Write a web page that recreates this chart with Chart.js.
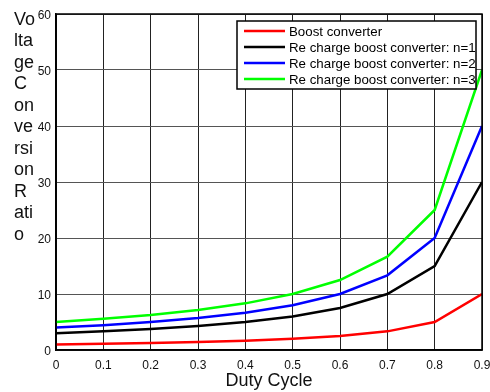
<!DOCTYPE html>
<html>
<head>
<meta charset="utf-8">
<script src="https://cdn.jsdelivr.net/npm/chart.js@4/dist/chart.umd.min.js"></script>
<style>
  html, body { margin: 0; padding: 0; background: #fff; }
  #wrap { width: 490px; height: 392px; position: relative; }
</style>
</head>
<body>
<div id="wrap"><canvas id="chart" width="490" height="392"></canvas></div>
<script>
// duty cycle values
const dutyCycle = [0, 0.1, 0.2, 0.3, 0.4, 0.5, 0.6, 0.7, 0.8, 0.9];
// voltage conversion ratio
const boost = [1, 1.11, 1.25, 1.43, 1.67, 2, 2.5, 3.33, 5, 10];
const rechargeN1 = [3, 3.33, 3.75, 4.29, 5, 6, 7.5, 10, 15, 30];
const rechargeN2 = [4, 4.44, 5, 5.71, 6.67, 8, 10, 13.33, 20, 40];
const rechargeN3 = [5, 5.56, 6.25, 7.14, 8.33, 10, 12.5, 16.67, 25, 50];
const seriesNames = ['Boost converter', 'Re charge boost converter: n=1', 'Re charge boost converter: n=2', 'Re charge boost converter: n=3'];
const seriesColors = ['#ff0000', '#000000', '#0000ff', '#00ff00'];
const yTitleLines = ['Vo', 'lta', 'ge', 'C', 'on', 've', 'rsi', 'on', 'R', 'ati', 'o'];

const FONT = '"Liberation Sans", Arial, sans-serif';

function toPoints(ys) {
  return dutyCycle.map((x, i) => ({ x: x, y: ys[i] }));
}

const allSeries = [boost, rechargeN1, rechargeN2, rechargeN3];

// legend box drawn inside the plot, on top of the lines
const boxLegend = {
  id: 'boxLegend',
  afterDatasetsDraw(chart) {
    const ctx = chart.ctx;
    const a = chart.chartArea;
    // box frame round the plot
    ctx.save();
    ctx.strokeStyle = '#000';
    ctx.lineWidth = 1.5;
    ctx.strokeRect(a.left, a.top, a.right - a.left, a.bottom - a.top);

    const x0 = 237, y0 = 21, w = 239, h = 68;
    ctx.fillStyle = '#fff';
    ctx.fillRect(x0, y0, w, h);
    ctx.strokeRect(x0, y0, w, h);
    ctx.font = '13.3px ' + FONT;
    ctx.textBaseline = 'middle';
    seriesNames.forEach((name, i) => {
      const y = 31 + i * 16;
      ctx.strokeStyle = seriesColors[i];
      ctx.lineWidth = 2.5;
      ctx.beginPath();
      ctx.moveTo(244, y);
      ctx.lineTo(285, y);
      ctx.stroke();
      ctx.fillStyle = '#000';
      ctx.fillText(name, 289, y + 1);
    });
    ctx.restore();
  }
};

// y title is wrapped into a narrow column of short pieces
const yTitle = {
  id: 'yTitle',
  afterDraw(chart) {
    const ctx = chart.ctx;
    ctx.save();
    ctx.font = '18px ' + FONT;
    ctx.fillStyle = '#111';
    ctx.textBaseline = 'middle';
    ctx.textAlign = 'left';
    yTitleLines.forEach((t, i) => {
      ctx.fillText(t, 14, 20 + i * 21.5);
    });
    ctx.restore();
  }
};

new Chart(document.getElementById('chart'), {
  type: 'line',
  data: {
    datasets: allSeries.map((s, i) => ({
      label: seriesNames[i],
      data: toPoints(s),
      borderColor: seriesColors[i],
      backgroundColor: seriesColors[i],
      borderWidth: 2.5,
      pointRadius: 0,
      tension: 0,
      fill: false
    }))
  },
  options: {
    responsive: false,
    animation: false,
    layout: { padding: { left: 0, right: 8, top: 14, bottom: 0 } },
    plugins: {
      legend: { display: false },
      tooltip: { enabled: false }
    },
    scales: {
      x: {
        type: 'linear',
        min: 0,
        max: 0.9,
        afterFit(scale) {
          scale.height = 42;
          scale.paddingRight = 0;
          scale.paddingLeft = 0;
        },
        ticks: {
          stepSize: 0.1,
          autoSkip: false,
          maxRotation: 0,
          color: '#111',
          font: { family: FONT, size: 12 },
          padding: 8,
          callback: v => Number(v.toFixed(1)).toString()
        },
        grid: { color: '#222', lineWidth: 1, drawTicks: false },
        border: { color: '#000', width: 1.5 },
        title: {
          display: true,
          text: 'Duty Cycle',
          color: '#111',
          font: { family: FONT, size: 18 },
          padding: { top: -2, bottom: 0 }
        }
      },
      y: {
        min: 0,
        max: 60,
        afterFit(scale) { scale.width = 56; },
        ticks: {
          stepSize: 10,
          color: '#111',
          font: { family: FONT, size: 12 },
          padding: 5,
          labelOffset: 2
        },
        grid: { color: '#555', lineWidth: 1, drawTicks: false },
        border: { color: '#000', width: 1.5 }
      }
    }
  },
  plugins: [boxLegend, yTitle]
});
</script>
</body>
</html>
